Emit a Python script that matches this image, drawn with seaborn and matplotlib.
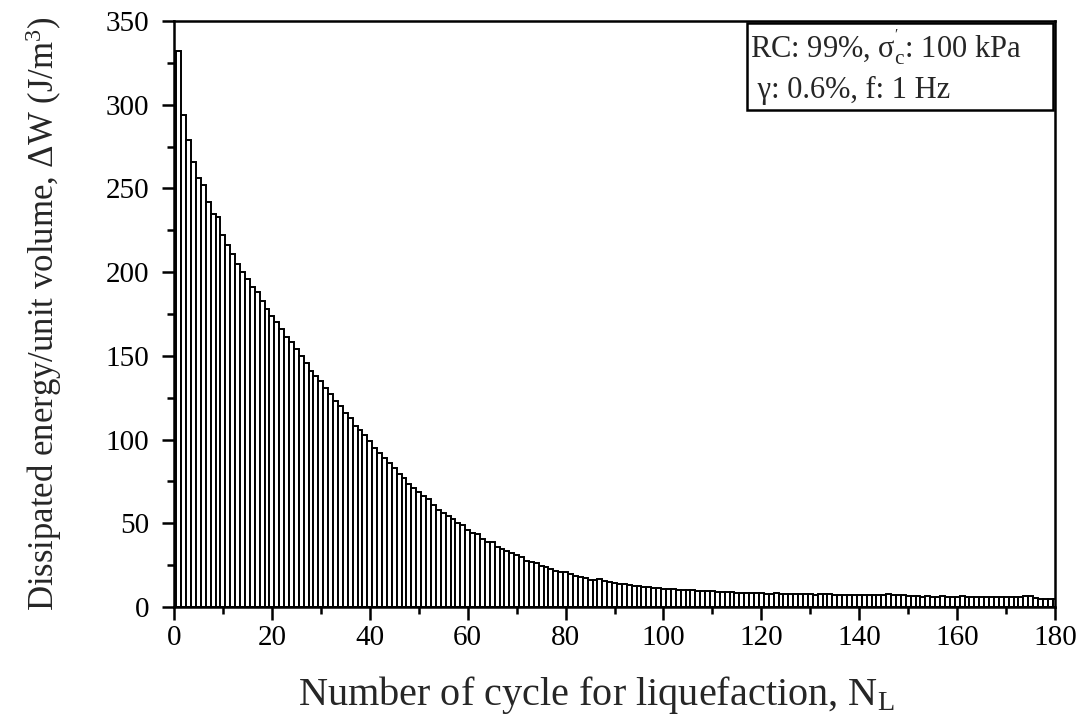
import numpy as np
import pandas as pd
import matplotlib
matplotlib.use("Agg")
import matplotlib.pyplot as plt
from matplotlib.patches import Rectangle
from matplotlib.ticker import MultipleLocator
import seaborn as sns

# Dissipated energy per loading cycle (J/m^3), cycles 1..180
cycles = list(range(1, 181))
energy = [
    332, 294, 279, 266, 256, 252, 242, 235, 233, 222,
    216, 211, 205, 200, 196, 191, 188, 183, 178, 174,
    170, 166, 161, 158, 154, 150, 146, 141, 138, 135,
    131, 127, 123, 120, 116, 113, 108, 106, 102.5, 99.3,
    95.2, 91.8, 89.2, 85.8, 82.8, 79.5, 77.0, 73.3, 70.9, 68.7,
    66.3, 64.4, 61.2, 58.1, 56.0, 54.6, 52.4, 50.0, 48.8, 46.0,
    44.4, 43.6, 40.4, 39.0, 39.0, 36.0, 34.6, 33.7, 32.1, 31.1,
    29.7, 27.7, 27.1, 26.1, 24.7, 23.7, 22.7, 21.7, 21.1, 21.1,
    19.7, 18.7, 18.1, 17.5, 16.1, 16.1, 16.5, 15.7, 15.1, 14.1,
    13.7, 13.5, 12.9, 12.5, 12.5, 12.2, 11.9, 11.6, 11.2, 11.0,
    10.8, 10.5, 10.3, 10.4, 10.1, 9.9, 9.7, 9.6, 9.5, 9.3,
    9.2, 9.0, 8.9, 8.8, 8.6, 8.5, 8.5, 8.4, 8.2, 8.1,
    8.0, 7.9, 8.1, 7.8, 7.7, 7.8, 7.6, 8.0, 7.7, 7.5,
    7.4, 7.6, 7.8, 7.5, 7.4, 7.2, 7.3, 7.4, 7.2, 7.1,
    7.0, 7.2, 7.3, 7.4, 7.3, 7.5, 7.2, 7.0, 7.1, 6.8,
    6.6, 6.3, 6.2, 6.4, 6.2, 6.0, 6.3, 6.1, 6.0, 6.2,
    6.5, 6.0, 5.9, 6.1, 5.8, 5.9, 6.2, 5.8, 5.7, 5.9,
    6.0, 5.8, 6.1, 6.3, 6.4, 5.6, 5.0, 4.9, 5.0, 5.0,
]

x_ticks = [0, 20, 40, 60, 80, 100, 120, 140, 160, 180]
y_ticks = [0, 50, 100, 150, 200, 250, 300, 350]

test_info = ["RC: 99%, σ$_\\mathrm{c}^{'}$: 100 kPa", " γ: 0.6%, f: 1 Hz"]
x_label = "Number of cycle for liquefaction, N$_\\mathrm{L}$"
y_label = "Dissipated energy/unit volume, ΔW (J/m$^3$)"

sns.set_style("ticks")
plt.rcParams["font.family"] = ["Liberation Serif", "DejaVu Serif"]
plt.rcParams["mathtext.fontset"] = "custom"
plt.rcParams["mathtext.rm"] = "Liberation Serif"
plt.rcParams["mathtext.it"] = "Liberation Serif:italic"
plt.rcParams["mathtext.bf"] = "Liberation Serif:bold"

df = pd.DataFrame({"N": cycles, "dW": energy})

fig = plt.figure(figsize=(10.9, 7.23), dpi=100)
ax = fig.add_axes([0.1596, 0.1604, 0.8084, 0.8106])

# one unit-wide bar per cycle, height = energy of that cycle
sns.histplot(data=df, x="N", weights="dW", discrete=True, shrink=1.0,
             color="white", edgecolor="black", linewidth=1.4, alpha=1.0,
             ax=ax)

ax.set_xlim(0, 180)
ax.set_ylim(0, 350)
ax.set_xticks(x_ticks)
ax.set_yticks(y_ticks)
ax.xaxis.set_minor_locator(MultipleLocator(10))
ax.yaxis.set_minor_locator(MultipleLocator(25))

for s in ax.spines.values():
    s.set_visible(True)
    s.set_linewidth(1.8)
    s.set_color("black")
    s.set_zorder(5)

ax.tick_params(axis="both", which="major", direction="out", length=9,
               width=1.8, labelsize=21, color="black", labelcolor="black")
ax.tick_params(axis="x", which="major", pad=4)
ax.tick_params(axis="y", which="major", pad=9)
ax.tick_params(axis="both", which="minor", direction="out", length=5,
               width=1.8, color="black")

ax.set_xlabel(x_label, fontsize=29)
ax.xaxis.set_label_coords(0.479, -0.115)
ax.set_ylabel(y_label, fontsize=25, labelpad=30)

# test-condition box in the upper right corner
ax.add_patch(Rectangle((0.650, 0.848), 0.348, 0.1486, transform=ax.transAxes,
                       facecolor="white", edgecolor="black", linewidth=1.8,
                       zorder=6))
ax.text(0.6538, 0.955, test_info[0], transform=ax.transAxes, ha="left",
        va="center", fontsize=22, zorder=7)
ax.text(0.6538, 0.882, test_info[1], transform=ax.transAxes, ha="left",
        va="center", fontsize=22, zorder=7)

fig.savefig("out.png", dpi=100)
